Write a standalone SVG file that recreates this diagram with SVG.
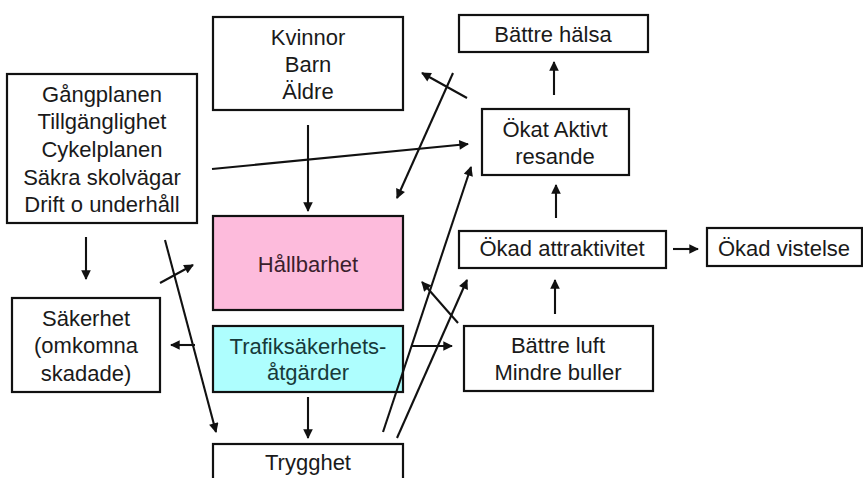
<svg xmlns="http://www.w3.org/2000/svg" width="863" height="478" viewBox="0 0 863 478">
<style>
.box{fill:#fff;stroke:#111;stroke-width:2.2}
.t{font-family:"Liberation Sans",Arial,sans-serif;font-size:22px;fill:#1a1a1a;text-anchor:middle}
.c line{stroke:#111;stroke-width:2.1;marker-end:url(#ah)}
</style>
<defs>
<marker id="ah" viewBox="0 0 10 10" refX="9" refY="5" markerWidth="5" markerHeight="4.6" markerUnits="strokeWidth" orient="auto">
<path d="M0,0 L10,5 L0,10 z" fill="#111"/>
</marker>
</defs>
<rect width="863" height="478" fill="#fff"/>
<g id="kvinnor"><rect class="box" x="213" y="17" width="190" height="93"/><text class="t" x="308" y="45">Kvinnor</text><text class="t" x="308" y="72">Barn</text><text class="t" x="308" y="99">Äldre</text></g>
<g id="planer"><rect class="box" x="7" y="74" width="190" height="149"/><text class="t" x="102" y="102">Gångplanen</text><text class="t" x="102" y="129">Tillgänglighet</text><text class="t" x="102" y="157">Cykelplanen</text><text class="t" x="102" y="185">Säkra skolvägar</text><text class="t" x="102" y="212">Drift o underhåll</text></g>
<g id="halsa"><rect class="box" x="459" y="15" width="189" height="37"/><text class="t" x="553" y="42">Bättre hälsa</text></g>
<g id="aktivt"><rect class="box" x="482" y="109" width="147" height="66"/><text class="t" x="555" y="137">Ökat Aktivt</text><text class="t" x="555" y="164">resande</text></g>
<g id="hallbarhet"><rect x="213" y="216" width="190" height="94" fill="#FDBBDC" stroke="#111" stroke-width="2.2"/><text class="t" x="308" y="272" style="fill:#3a1e2c">Hållbarhet</text></g>
<g id="attraktivitet"><rect class="box" x="459" y="231" width="207" height="37"/><text class="t" x="562" y="256">Ökad attraktivitet</text></g>
<g id="vistelse"><rect class="box" x="707" y="228" width="155" height="38"/><text class="t" x="784" y="256">Ökad vistelse</text></g>
<g id="sakerhet"><rect class="box" x="12" y="298" width="148" height="94"/><text class="t" x="86" y="326">Säkerhet</text><text class="t" x="86" y="353">(omkomna</text><text class="t" x="86" y="381">skadade)</text></g>
<g id="trafik"><rect x="213" y="326" width="190" height="66" fill="#AEFEFE" stroke="#111" stroke-width="2.2"/><text class="t" x="308" y="354" style="fill:#173a3a">Trafiksäkerhets-</text><text class="t" x="308" y="380" style="fill:#173a3a">åtgärder</text></g>
<g id="luft"><rect class="box" x="464" y="326" width="189" height="65"/><text class="t" x="558" y="353">Bättre luft</text><text class="t" x="558" y="380">Mindre buller</text></g>
<g id="trygghet"><rect class="box" x="213" y="444" width="190" height="40"/><text class="t" x="308" y="470">Trygghet</text></g>
<g id="connectors" class="c">
<line x1="308" y1="125" x2="308" y2="211"/>
<line x1="212" y1="169" x2="468" y2="144"/>
<line x1="453" y1="73" x2="397" y2="198"/>
<line x1="467" y1="98" x2="422" y2="73"/>
<line x1="554" y1="95" x2="554" y2="62"/>
<line x1="556" y1="218" x2="556" y2="185"/>
<line x1="383" y1="432" x2="471" y2="167"/>
<line x1="397" y1="438" x2="467" y2="280"/>
<line x1="555" y1="314" x2="555" y2="280"/>
<line x1="458" y1="323" x2="422" y2="282"/>
<line x1="412" y1="346" x2="452" y2="346"/>
<line x1="673" y1="249" x2="698" y2="249"/>
<line x1="86" y1="237" x2="86" y2="279"/>
<line x1="165" y1="240" x2="216" y2="432"/>
<line x1="160" y1="283" x2="193" y2="265"/>
<line x1="195" y1="345" x2="171" y2="345"/>
<line x1="308" y1="397" x2="308" y2="438"/>
</g>
</svg>
